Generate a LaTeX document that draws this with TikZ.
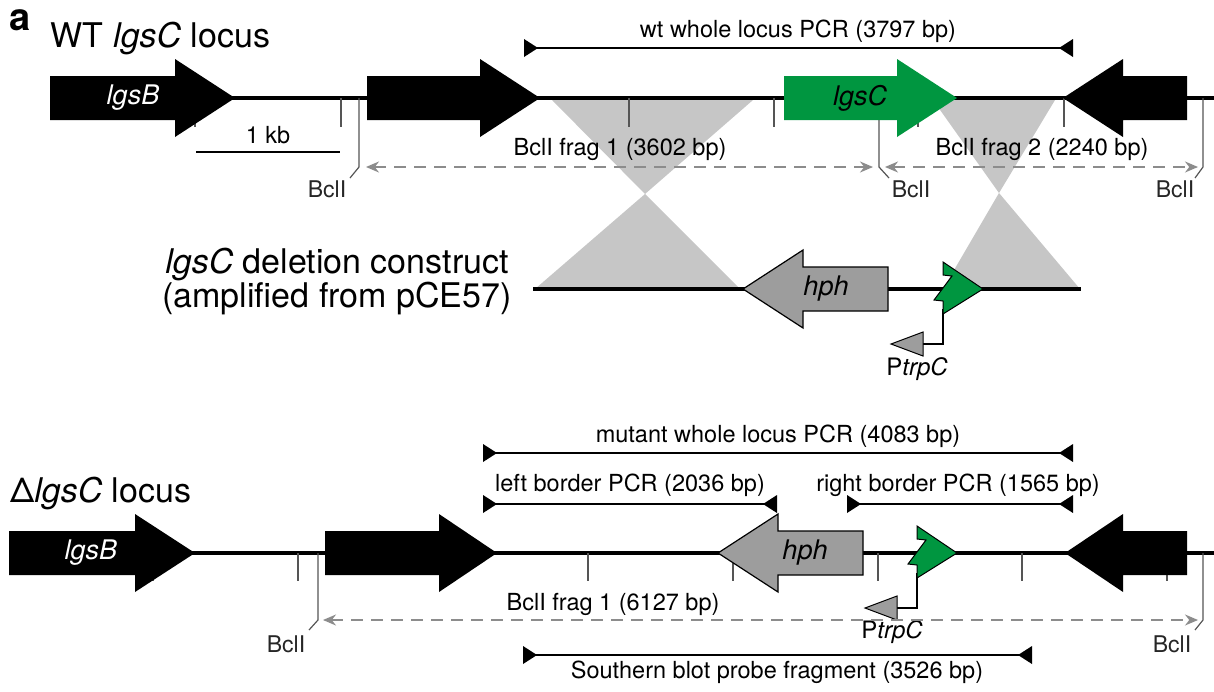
\documentclass[tikz,border=0pt]{standalone}
\usepackage{fontspec}
\setmainfont{TeX Gyre Heros}
\usetikzlibrary{arrows.meta}
\definecolor{lgreen}{RGB}{0,150,64}
\definecolor{xgray}{RGB}{198,198,198}
\definecolor{hgray}{RGB}{157,157,157}
\definecolor{tickgray}{RGB}{85,85,85}
\definecolor{dashgray}{RGB}{140,140,140}
\newcommand{\GeneR}[5]{\path[#1] (#2,#5-22) -- (#3,#5-22) -- (#3,#5-39) -- (#4,#5) -- (#3,#5+39) -- (#3,#5+22) -- (#2,#5+22) -- cycle;}
\newcommand{\GeneL}[5]{\path[#1] (#2,#5) -- (#3,#5-39) -- (#3,#5-22) -- (#4,#5-22) -- (#4,#5+22) -- (#3,#5+22) -- (#3,#5+39) -- cycle;}
\newcommand{\PrimR}[2]{\fill (#1,#2-9) -- (#1+14,#2) -- (#1,#2+9) -- cycle;}
\newcommand{\PrimL}[2]{\fill (#1,#2-9) -- (#1-14,#2) -- (#1,#2+9) -- cycle;}
\newcommand{\Prom}[2]{%
  \draw[line width=1.2pt] (#1,#2+20) -- (#1,#2+55) -- (#1-20,#2+55);
  \filldraw[fill=hgray, draw=black, line width=1pt, line join=miter] (#1-20,#2+43) -- (#1-20,#2+67) -- (#1-52,#2+55) -- cycle;
  \filldraw[fill=lgreen, draw=black, line width=1pt, line join=miter] (#1,#2-27) -- (#1+40,#2) -- (#1,#2+25) -- (#1,#2+12) -- (#1-9,#2+11) -- (#1+9,#2-13) -- (#1,#2-14) -- cycle;}
\begin{document}
\begin{tikzpicture}[x=1pt,y=-1pt,
  backbone/.style={line width=3.5pt},
  tickline/.style={draw=tickgray, line width=1.2pt},
  dashline/.style={draw=dashgray, line width=1.4pt, dash pattern=on 12pt off 8pt,
     {Stealth[length=13pt,width=11pt]}-{Stealth[length=13pt,width=11pt]}},
  pcr/.style={line width=1.5pt},
  lbl/.style={font=\fontsize{23.5}{28}\selectfont, anchor=base, inner sep=0pt},
  bcl/.style={font=\fontsize{23}{27}\selectfont, anchor=base, inner sep=0pt, text=black!85},
  ptr/.style={font=\fontsize{24}{28}\selectfont, anchor=base, inner sep=0pt},
  gene/.style={font=\fontsize{27}{32}\selectfont\itshape, inner sep=0pt},
  title/.style={font=\fontsize{34}{40}\selectfont, inner sep=0pt}]
\useasboundingbox[fill=white] (0,0) rectangle (1214,691);

% ---------- crossover shading ----------
\fill[xgray] (552,100) -- (753,100) -- (645,194) -- cycle;
\fill[xgray] (645,194) -- (535,289) -- (740,289) -- cycle;
\fill[xgray] (933,100) -- (1055,100) -- (999,193) -- cycle;
\fill[xgray] (999,193) -- (943,289) -- (1080,289) -- cycle;

% ---------- WT locus ----------
\node[anchor=base west, inner sep=0pt, font=\fontsize{38}{44}\selectfont\bfseries] (pa) at (9,30) {a};
\node[title, anchor=base west] (wttitle) at (50,47) {WT \textit{lgsC} locus};

\coordinate (wtL) at (50,98);
\coordinate (wtR) at (1214,98);
\draw[backbone] (wtL) -- (wtR);
\foreach \x in {195,341,629,774,918,1064}
  \draw[tickline] (\x,98) -- (\x,127);
\draw[tickline] (359,98) -- (359,167) -- (350,178);
\draw[tickline] (879,98) -- (879,167) -- (889,178);
\draw[tickline] (1203,98) -- (1203,167) -- (1195,178);

\GeneR{fill=black}{50}{175}{235}{98}
\GeneR{fill=black}{367}{480}{540}{98}
\GeneR{fill=lgreen}{784}{897}{957}{98}
\GeneL{fill=black}{1063}{1123}{1187}{98}
\node[gene, text=white] (lgsBa) at (133,98) {lgsB};
\node[gene, text=black] (lgsCa) at (860,98) {lgsC};

% scale bar
\coordinate (sbL) at (196,152);
\coordinate (sbR) at (340,152);
\draw[line width=1.3pt] (sbL) -- (sbR);
\node[lbl] (kb) at (268,143) {1 kb};

% wt PCR
\coordinate (wpL) at (524,48);
\coordinate (wpR) at (1073,48);
\draw[pcr] (wpL) -- (wpR);
\PrimR{524}{48}
\PrimL{1073}{48}
\node[lbl] (wtpcr) at (798,37) {wt whole locus PCR (3797 bp)};

% BclI fragments
\coordinate (f1L) at (366,167);
\coordinate (f1R) at (873,167);
\coordinate (f2L) at (885,167);
\coordinate (f2R) at (1198,167);
\draw[dashline] (f1L) -- (f1R);
\draw[dashline] (f2L) -- (f2R);
\node[lbl] (frag1) at (620,155) {BclI frag 1 (3602 bp)};
\node[lbl] (frag2) at (1042,155) {BclI frag 2 (2240 bp)};
\node[bcl] (b1) at (327,197) {BclI};
\node[bcl] (b2) at (911,197) {BclI};
\node[bcl] (b3) at (1175,197) {BclI};

% ---------- deletion construct ----------
\node[title, anchor=base] (cons1) at (337,273) {\textit{lgsC} deletion construct};
\node[title, anchor=base] (cons2) at (337,307) {(amplified from pCE57)};
\coordinate (cL) at (533,289);
\coordinate (cR) at (1081,289);
\draw[backbone] (cL) -- (cR);
\GeneL{fill=hgray, draw=black, line width=1.2pt}{743}{803}{888}{289}
\node[gene] (hpha) at (826,289) {hph};
\Prom{943}{289}
\node[ptr] (ptrpa) at (917,375) {P\textit{trpC}};

% ---------- mutant locus ----------
\node[title, anchor=base west] (mttitle) at (10,502) {Δ\textit{lgsC} locus};
\coordinate (mtL) at (9,553);
\coordinate (mtR) at (1214,553);
\draw[backbone] (mtL) -- (mtR);
\foreach \x in {153,298,588,733,878,1022,1167}
  \draw[tickline] (\x,553) -- (\x,581);
\draw[tickline] (318,553) -- (318,620) -- (309,630);
\draw[tickline] (1203,553) -- (1203,620) -- (1195,630);

\GeneR{fill=black}{9}{135}{195}{553}
\GeneR{fill=black}{325}{439}{497}{553}
\GeneL{fill=hgray, draw=black, line width=1.2pt}{718}{778}{863}{553}
\GeneL{fill=black}{1065}{1123}{1187}{553}
\node[gene, text=white] (lgsBb) at (91,553) {lgsB};
\node[gene] (hphb) at (805,553) {hph};
\Prom{917}{553}
\node[ptr] (ptrpb) at (892,638) {P\textit{trpC}};

% PCRs
\draw[pcr] (483,453) coordinate (mpL) -- (1073,453) coordinate (mpR);
\PrimR{483}{453}
\PrimL{1073}{453}
\node[lbl] (mtpcr) at (778,442) {mutant whole locus PCR (4083 bp)};

\draw[pcr] (483,504) coordinate (lbL) -- (777,504) coordinate (lbR);
\PrimR{483}{504}
\PrimL{777}{504}
\node[lbl] (lbpcr) at (630,491) {left border PCR (2036 bp)};

\draw[pcr] (847,504) coordinate (rbL) -- (1073,504) coordinate (rbR);
\PrimR{847}{504}
\PrimL{1073}{504}
\node[lbl] (rbpcr) at (958,491) {right border PCR (1565 bp)};

\coordinate (f3L) at (323,620);
\coordinate (f3R) at (1198,620);
\draw[dashline] (f3L) -- (f3R);
\node[lbl] (frag3) at (613,610) {BclI frag 1 (6127 bp)};
\node[bcl] (b4) at (286,652) {BclI};
\node[bcl] (b5) at (1172,652) {BclI};

\draw[pcr] (523,655) coordinate (sbpL) -- (1032,655) coordinate (sbpR);
\PrimR{523}{655}
\PrimL{1032}{655}
\node[lbl] (south) at (777,678) {Southern blot probe fragment (3526 bp)};
\end{tikzpicture}
\end{document}
